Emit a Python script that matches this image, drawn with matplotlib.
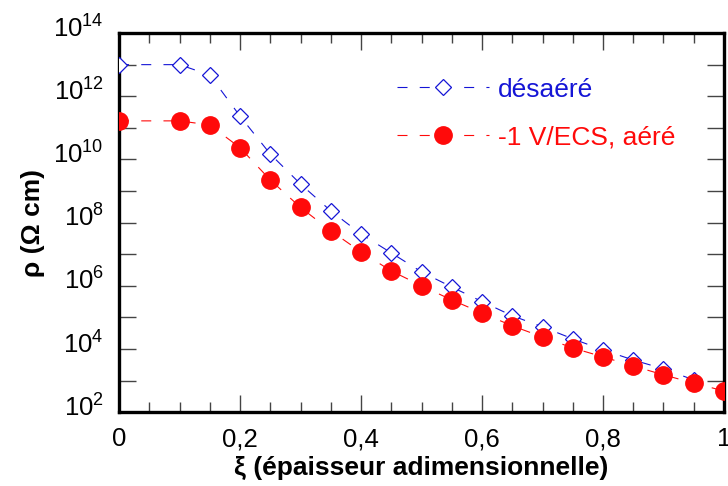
import numpy as np
import matplotlib
matplotlib.use("Agg")
import matplotlib.pyplot as plt
from matplotlib.ticker import FixedLocator, FuncFormatter
import matplotlib.transforms as mtransforms

plt.rcParams['font.family'] = ['Liberation Sans', 'DejaVu Sans']
plt.rcParams['mathtext.fontset'] = 'custom'
plt.rcParams['mathtext.rm'] = 'Liberation Sans'

# data (log10 of rho)
xi_des = [0, 0.1, 0.15, 0.2, 0.25, 0.3, 0.35, 0.4, 0.45, 0.5, 0.55, 0.6, 0.65,
          0.7, 0.75, 0.8, 0.85, 0.9, 0.95]
log_des = [13.0, 13.0, 12.67, 11.37, 10.17, 9.22, 8.37, 7.64, 7.04, 6.44, 5.96,
           5.5, 5.05, 4.7, 4.32, 3.97, 3.65, 3.37, 3.02]
xi_aer = [0, 0.1, 0.15, 0.2, 0.25, 0.3, 0.35, 0.4, 0.45, 0.5, 0.55, 0.6, 0.65,
          0.7, 0.75, 0.8, 0.85, 0.9, 0.95, 1.0]
log_aer = [11.22, 11.22, 11.09, 10.37, 9.35, 8.48, 7.74, 7.07, 6.47, 6.0, 5.55,
           5.14, 4.73, 4.38, 4.03, 3.75, 3.46, 3.18, 2.92, 2.67]

lab_des = "désaéré"
lab_aer = "-1 V/ECS, aéré"
blue = "#1515d6"
red = "#ff0a0a"

fig = plt.figure(figsize=(7.28, 4.86), dpi=100)
ax = fig.add_axes([0.1635, 0.152, 0.831, 0.78])

ax.plot(xi_des, 10.0 ** np.array(log_des), ls=(0, (9, 11)), lw=0.8, color=blue,
        marker='D', ms=8.5, mfc='white', mec=blue, mew=0.9, label=lab_des, zorder=3)
ax.plot(xi_aer, 10.0 ** np.array(log_aer), ls=(0, (9, 11)), lw=0.8, color=red,
        marker='o', ms=12.5, mfc=red, mec=red, label=lab_aer, zorder=4)

ax.set_yscale('log')
ax.set_xlim(0, 1)
ax.set_ylim(1e2, 1e14)

ax.yaxis.set_major_locator(FixedLocator([10.0 ** k for k in range(2, 15)]))
ax.yaxis.set_minor_locator(FixedLocator([]))
ax.yaxis.set_major_formatter(FuncFormatter(
    lambda v, p: r'$\mathregular{10^{%d}}$' % round(np.log10(v)) if round(np.log10(v)) % 2 == 0 else ''))
ax.xaxis.set_major_locator(FixedLocator([0, 0.2, 0.4, 0.6, 0.8, 1.0]))
ax.xaxis.set_minor_locator(FixedLocator(np.arange(0.05, 1.0, 0.05)))
ax.xaxis.set_major_formatter(FuncFormatter(
    lambda v, p: ('%g' % v).replace('.', ',')))

ax.tick_params(which='both', direction='in', top=True, right=True,
               labelsize=18.5, width=1, color='#444444')
ax.tick_params(which='major', length=12)
ax.tick_params(which='minor', length=7)
ax.tick_params(axis='x', pad=11)
ax.tick_params(axis='y', pad=11)

off = mtransforms.ScaledTranslation(0, 5 / 72, fig.dpi_scale_trans)
for t in ax.get_yticklabels():
    t.set_transform(t.get_transform() + off)

for s in ax.spines.values():
    s.set_linewidth(2.4)

ax.set_xlabel("ξ (épaisseur adimensionnelle)", fontsize=19, fontweight='bold', labelpad=3)
ax.set_ylabel("ρ (Ω cm)", fontsize=19, fontweight='bold', labelpad=6)

leg = ax.legend(loc='upper left', bbox_to_anchor=(0.42, 0.945), frameon=False,
                fontsize=19, handlelength=3.5, handletextpad=0.34, labelspacing=0.9,
                numpoints=1)
for txt, c in zip(leg.get_texts(), [blue, red]):
    txt.set_color(c)

fig.savefig("out.png", dpi=100)
